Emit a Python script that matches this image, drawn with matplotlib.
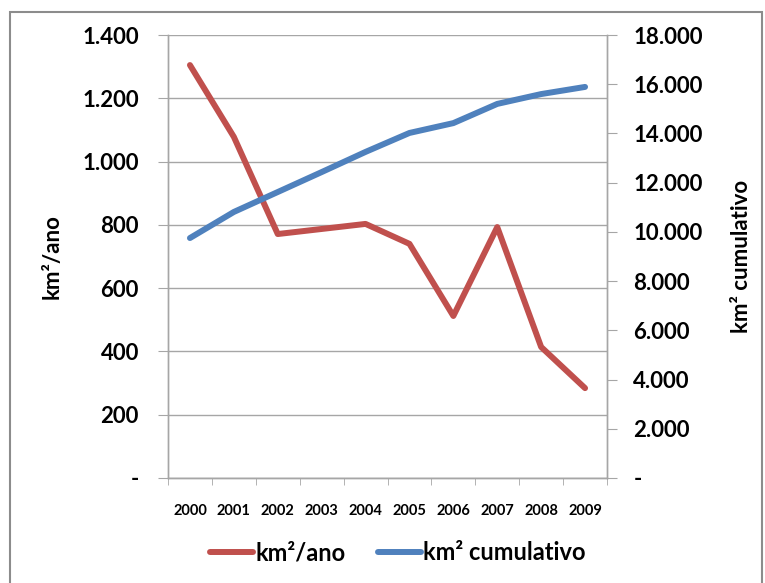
import matplotlib
matplotlib.use("Agg")
import matplotlib.pyplot as plt
from matplotlib.ticker import FuncFormatter
from matplotlib.patches import Rectangle

years = ["2000", "2001", "2002", "2003", "2004", "2005", "2006", "2007", "2008", "2009"]
km2_ano = [1305, 1078, 771, 787, 803, 740, 512, 793, 414, 284]
km2_cumulativo = [9750, 10810, 11620, 12430, 13250, 14020, 14420, 15200, 15600, 15890]

RED = "#C0504D"
BLUE = "#4F81BD"
GRID = "#A6A6A6"
FONT = "Lato"


def fmt(v, pos):
    if v == 0:
        return "-"
    return f"{int(v):,}".replace(",", ".")


def main():
    plt.rcParams["font.family"] = [FONT, "DejaVu Sans"]
    fig = plt.figure(figsize=(7.65, 5.83), dpi=100)
    W, H = 765, 583
    ax = fig.add_axes([168 / W, 1 - 478 / H, (607 - 168) / W, (478 - 35) / H])
    ax2 = ax.twinx()

    # outer chart border
    fig.patches.append(Rectangle((10 / W, -0.05), 752 / W, 1 - 12 / H + 0.05,
                                 transform=fig.transFigure, fill=False,
                                 edgecolor="#8C8C8C", linewidth=1.5))

    x = range(len(years))
    l1, = ax.plot(x, km2_ano, color=RED, lw=4.3, solid_capstyle="round",
                  solid_joinstyle="round", label="km²/ano", zorder=3)
    l2, = ax2.plot(x, km2_cumulativo, color=BLUE, lw=4.3, solid_capstyle="round",
                   solid_joinstyle="round", label="km² cumulativo", zorder=3)

    ax.set_xlim(-0.5, len(years) - 0.5)
    ax.set_ylim(0, 1400)
    ax.set_yticks(range(0, 1401, 200))
    ax2.set_ylim(0, 18000)
    ax2.set_yticks(range(0, 18001, 2000))
    ax.yaxis.set_major_formatter(FuncFormatter(fmt))
    ax2.yaxis.set_major_formatter(FuncFormatter(fmt))

    ax.set_xticks(list(x))
    ax.set_xticklabels(years, fontsize=10.5, fontweight="bold")
    ax.set_xticks([i - 0.5 for i in range(len(years) + 1)], minor=True)
    ax.tick_params(axis="x", which="major", length=0, pad=19)
    ax.tick_params(axis="x", which="minor", length=5, color=GRID)

    ax.grid(axis="y", color=GRID, lw=1)
    ax.set_axisbelow(True)
    ax.tick_params(axis="y", length=7, color=GRID, labelsize=16, pad=14)
    ax2.tick_params(axis="y", length=7, color=GRID, labelsize=16, pad=12)
    for lab in ax.get_yticklabels() + ax2.get_yticklabels():
        lab.set_fontweight("bold")

    for a in (ax, ax2):
        a.spines["top"].set_visible(False)
        for s in ("left", "right", "bottom"):
            a.spines[s].set_color(GRID)
            a.spines[s].set_linewidth(1)

    ax.set_ylabel("km²/ano", fontsize=16, fontweight="bold", labelpad=14)
    ax2.set_ylabel("km² cumulativo", fontsize=16, fontweight="bold", labelpad=20)

    fig.legend(handles=[l1, l2], loc="center", bbox_to_anchor=(398 / W, 1 - 553 / H),
               ncol=2, frameon=False, prop={"family": FONT, "size": 17, "weight": "bold"},
               handlelength=1.8, handletextpad=0.1, columnspacing=1.4)

    fig.savefig("out.png", dpi=100)
    plt.close(fig)


if __name__ == "__main__":
    main()
